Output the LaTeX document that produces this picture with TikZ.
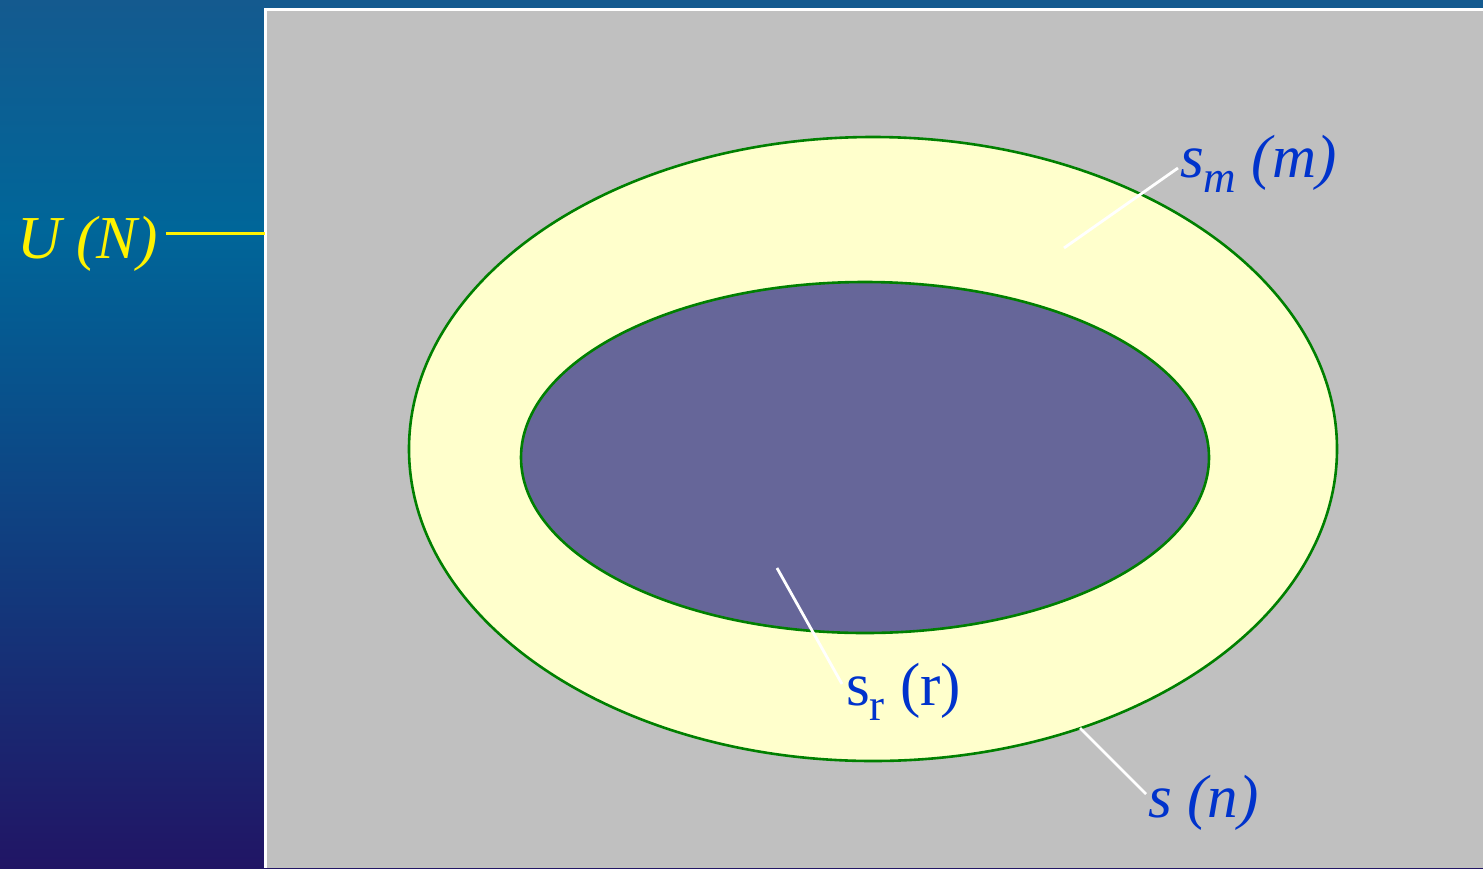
\documentclass[tikz,border=0pt]{standalone}
\usepackage{fontspec}
\setmainfont{Liberation Serif}
\usetikzlibrary{shapes.geometric}
\definecolor{ctop}{HTML}{145A8F}
\definecolor{cmid}{HTML}{006699}
\definecolor{cbot}{HTML}{211565}
\definecolor{panel}{HTML}{C0C0C0}
\definecolor{ring}{HTML}{FFFFCC}
\definecolor{core}{HTML}{666699}
\definecolor{edge}{HTML}{008000}
\definecolor{labblue}{HTML}{0033CC}
\pgfdeclareverticalshading{bgshade}{100bp}{color(0bp)=(cbot); color(25bp)=(cbot); color(61.75bp)=(cmid); color(75bp)=(ctop); color(100bp)=(ctop)}
\tikzset{
  lab/.style={inner sep=0pt, anchor=base west, font=\fontsize{61}{63}\selectfont},
  setline/.style={draw=edge, line width=2.6pt},
  leader/.style={draw=white, line width=2.8pt},
}
\newcommand{\subfs}{\fontsize{45}{45}\selectfont}
\begin{document}
\begin{tikzpicture}[x=1pt,y=-1pt]
\useasboundingbox (0,0) rectangle (1483,868);
\shade[shading=bgshade] (0,0) rectangle (1483,868);
\fill[white] (264,8) rectangle (1483,868);
\fill[panel] (267,11) rectangle (1483,868);
\node[ellipse, setline, fill=ring, minimum width=928pt, minimum height=624pt, inner sep=0pt] (outer) at (873,449) {};
\node[ellipse, setline, fill=core, minimum width=688pt, minimum height=351pt, inner sep=0pt] (inner) at (865,457.5) {};
% labels
\node[lab, text=yellow] (U) at (17,258) {\itshape U (N)};
\node[lab, text=labblue] (sm) at (1180,177) {\itshape s\raisebox{-15pt}{\subfs m} (m)};
\node[lab, text=labblue] (sr) at (846,705) {s\raisebox{-15pt}{\subfs r} (r)};
\node[lab, text=labblue] (sn) at (1148,817) {\itshape s (n)};
% leader ends
\coordinate (Ue) at (265,233);
\coordinate (sme) at (1064,248);
\coordinate (sre) at (777,568);
\coordinate (sne) at (1080,728);
\draw[yellow, line width=3pt] (U.east |- Ue) ++(8,0) -- (Ue);
\draw[leader] (sm.west |- 0,168) ++(-2,0) -- (sme);
\draw[leader] (sr.west |- 0,684) ++(-4,0) -- (sre);
\draw[leader] (sn.west |- 0,794) ++(-2,0) -- (sne);
\end{tikzpicture}
\end{document}
